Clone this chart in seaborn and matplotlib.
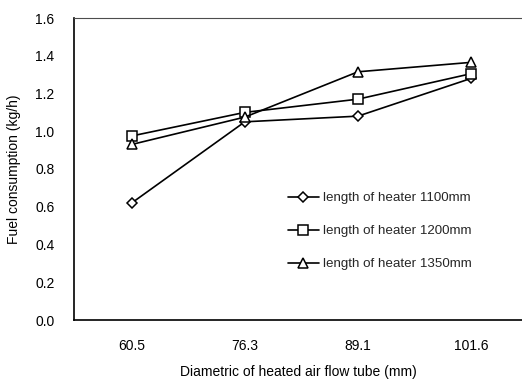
import matplotlib
matplotlib.use("Agg")
import matplotlib.pyplot as plt
import seaborn as sns
import pandas as pd

diameters = ["60.5", "76.3", "89.1", "101.6"]
series_names = ["length of heater 1100mm", "length of heater 1200mm", "length of heater 1350mm"]
fc_1100 = [0.62, 1.05, 1.08, 1.28]
fc_1200 = [0.975, 1.10, 1.17, 1.305]
fc_1350 = [0.93, 1.075, 1.315, 1.365]
y_ticks = [0.0, 0.2, 0.4, 0.6, 0.8, 1.0, 1.2, 1.4, 1.6]

rows = []
for name, vals in zip(series_names, [fc_1100, fc_1200, fc_1350]):
    for d, v in zip(diameters, vals):
        rows.append({"d": d, "fc": v, "series": name})
df = pd.DataFrame(rows)

sns.set_theme(style="white")
plt.rcParams["font.family"] = ["Liberation Sans", "DejaVu Sans"]

fig = plt.figure(figsize=(5.22, 3.82), dpi=100)
ax = fig.add_axes([74/522, 1-320/382, 448/522, 302/382])

sns.lineplot(data=df, x="d", y="fc", style="series", markers=["D", "s", "^"],
             dashes=False, color="black", markerfacecolor="white",
             markeredgecolor="black", markeredgewidth=1.1, markersize=6.5,
             linewidth=1.2, sort=False, legend=False, ax=ax)
ax.lines[0].set_markersize(5.0)

ax.set_xlim(-0.51, 3.45)
ax.set_ylim(0, 1.6)
ax.set_yticks(y_ticks)
ax.set_yticklabels([f"{t:.1f}" for t in y_ticks])
ax.set_xticks(range(len(diameters)))
ax.set_xticklabels(diameters)
ax.tick_params(axis="y", direction="in", length=4, width=1, pad=14, labelsize=10, colors="black")
ax.tick_params(axis="x", direction="in", length=0, pad=14, labelsize=10, colors="black")
ax.set_xlabel("Diametric of heated air flow tube (mm)", fontsize=10, labelpad=8, color="black")
ax.set_ylabel("Fuel consumption (kg/h)", fontsize=10, labelpad=10, color="black")

for s in ["left", "bottom"]:
    ax.spines[s].set_color("black")
    ax.spines[s].set_linewidth(1.2)
ax.spines["right"].set_visible(False)
ax.spines["top"].set_color("0.3")
ax.spines["top"].set_linewidth(0.8)
ax.spines["top"].set_linestyle((0, (2, 1)))

handles = ax.lines[:3]
leg = ax.legend(handles=handles, labels=series_names, loc="upper left",
                bbox_to_anchor=((288-74)/448, 1-(192-18)/302), borderaxespad=0,
                borderpad=0, frameon=False, handlelength=2.3, handletextpad=0.35,
                labelspacing=1.55, fontsize=9.6)

fig.savefig("out.png", dpi=100, facecolor="white")
